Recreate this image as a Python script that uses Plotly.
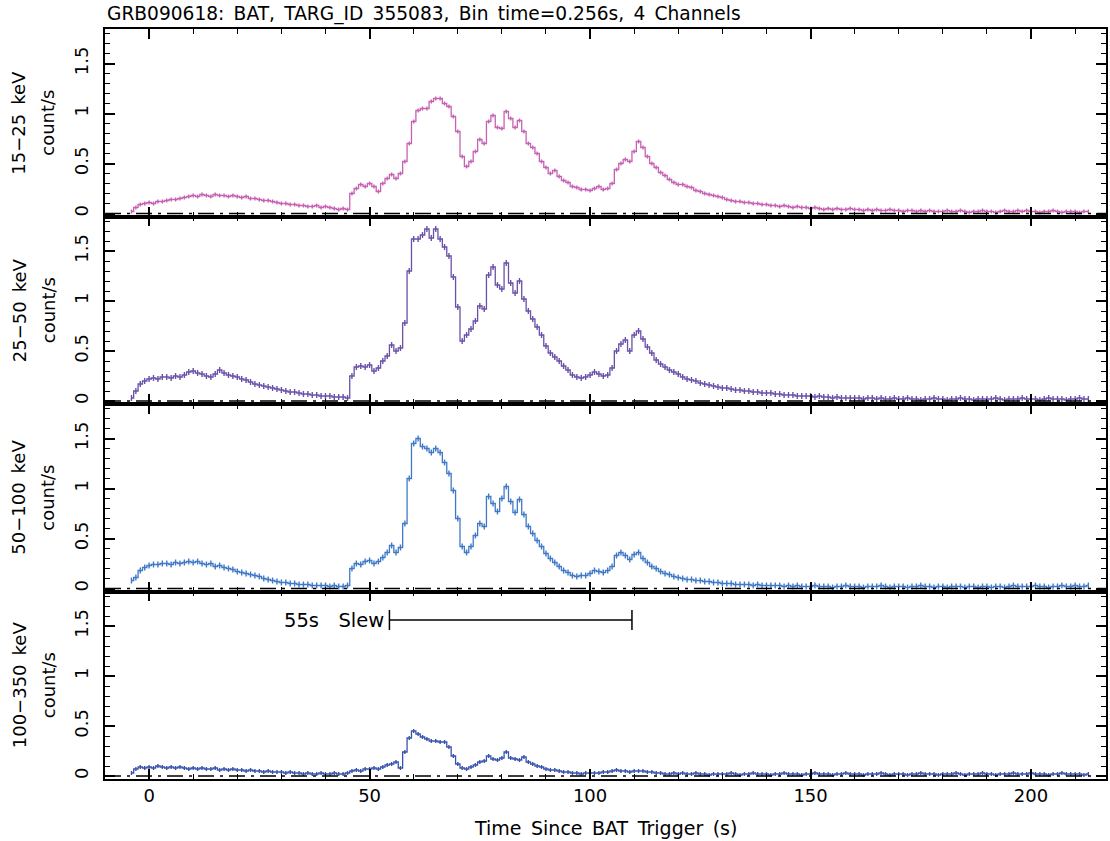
import numpy as np
import plotly.graph_objects as go
from plotly.subplots import make_subplots

# GRB090618 BAT light curves, rates in count/s, 1 s bins centred on t = -4 ... 213 s
time_s = np.arange(-4, 214)

rate_15_25 = [
    0.02, 0.06, 0.09, 0.10,
    0.11, 0.10, 0.12, 0.12, 0.13, 0.14, 0.14, 0.15, 0.16, 0.17,
    0.18, 0.17, 0.19, 0.18, 0.17, 0.19, 0.18, 0.18, 0.17, 0.18,
    0.17, 0.16, 0.17, 0.15, 0.15, 0.14, 0.13, 0.13, 0.12, 0.11,
    0.10, 0.10, 0.09, 0.09, 0.08, 0.08, 0.07, 0.07, 0.08, 0.06,
    0.07, 0.06, 0.05, 0.04, 0.05, 0.04, 0.20, 0.25, 0.29, 0.27,
    0.30, 0.27, 0.22, 0.30, 0.35, 0.39, 0.35, 0.40, 0.52, 0.70,
    0.92, 1.03, 1.05, 1.05, 1.12, 1.15, 1.15, 1.10, 1.07, 0.97,
    0.82, 0.57, 0.47, 0.52, 0.62, 0.74, 0.70, 0.92, 0.98, 0.86,
    0.85, 1.02, 0.95, 0.86, 0.93, 0.82, 0.70, 0.66, 0.60, 0.52,
    0.46, 0.40, 0.43, 0.37, 0.33, 0.31, 0.27, 0.26, 0.24, 0.24,
    0.23, 0.25, 0.27, 0.24, 0.25, 0.30, 0.44, 0.50, 0.54, 0.52,
    0.62, 0.72, 0.66, 0.57, 0.50, 0.46, 0.41, 0.38, 0.34, 0.31,
    0.29, 0.29, 0.27, 0.26, 0.23, 0.22, 0.20, 0.19, 0.18, 0.17,
    0.16, 0.14, 0.13, 0.12, 0.12, 0.11, 0.11, 0.10, 0.10, 0.09,
    0.09, 0.08, 0.08, 0.07, 0.08, 0.07, 0.06, 0.07, 0.06, 0.06,
    0.05, 0.06, 0.05, 0.04, 0.05, 0.04, 0.05, 0.04, 0.04, 0.05,
    0.04, 0.04, 0.03, 0.04, 0.03, 0.04, 0.03, 0.03, 0.04, 0.03,
    0.03, 0.02, 0.03, 0.03, 0.02, 0.03, 0.02, 0.03, 0.02, 0.02,
    0.02, 0.03, 0.02, 0.02, 0.03, 0.02, 0.01, 0.02, 0.02, 0.03,
    0.02, 0.02, 0.01, 0.02, 0.03, 0.02, 0.02, 0.03, 0.02, 0.03,
    0.02, 0.02, 0.01, 0.02, 0.02, 0.03, 0.02, 0.01, 0.02, 0.02,
    0.02, 0.01, 0.02, 0.02,
]

rate_25_50 = [
    0.03, 0.10, 0.17, 0.20,
    0.22, 0.23, 0.22, 0.24, 0.24, 0.23, 0.25, 0.24, 0.26, 0.29,
    0.30, 0.28, 0.27, 0.25, 0.24, 0.27, 0.31, 0.28, 0.26, 0.25,
    0.24, 0.22, 0.21, 0.19, 0.17, 0.16, 0.15, 0.14, 0.13, 0.12,
    0.11, 0.10, 0.09, 0.09, 0.08, 0.07, 0.07, 0.06, 0.06, 0.05,
    0.05, 0.05, 0.04, 0.04, 0.04, 0.03, 0.25, 0.34, 0.35, 0.34,
    0.36, 0.30, 0.33, 0.40, 0.45, 0.56, 0.50, 0.53, 0.78, 1.30,
    1.62, 1.62, 1.66, 1.72, 1.63, 1.72, 1.62, 1.54, 1.45, 1.24,
    0.94, 0.60, 0.66, 0.72, 0.80, 0.95, 0.92, 1.26, 1.34, 1.16,
    1.12, 1.38, 1.18, 1.08, 1.20, 1.02, 0.90, 0.82, 0.74, 0.66,
    0.55, 0.48, 0.44, 0.40, 0.35, 0.31, 0.26, 0.24, 0.23, 0.24,
    0.26, 0.29, 0.27, 0.25, 0.26, 0.33, 0.50, 0.57, 0.61, 0.50,
    0.66, 0.70, 0.62, 0.54, 0.48, 0.41, 0.37, 0.34, 0.31, 0.29,
    0.27, 0.24, 0.22, 0.21, 0.20, 0.18, 0.17, 0.16, 0.15, 0.14,
    0.13, 0.13, 0.12, 0.11, 0.11, 0.10, 0.10, 0.09, 0.09, 0.08,
    0.08, 0.08, 0.07, 0.07, 0.06, 0.06, 0.06, 0.05, 0.05, 0.05,
    0.05, 0.04, 0.05, 0.04, 0.04, 0.03, 0.04, 0.03, 0.03, 0.03,
    0.03, 0.03, 0.02, 0.03, 0.03, 0.02, 0.03, 0.02, 0.02, 0.03,
    0.02, 0.02, 0.03, 0.02, 0.02, 0.01, 0.02, 0.02, 0.03, 0.02,
    0.02, 0.01, 0.02, 0.02, 0.03, 0.02, 0.02, 0.01, 0.02, 0.02,
    0.02, 0.02, 0.03, 0.02, 0.01, 0.02, 0.02, 0.02, 0.03, 0.02,
    0.02, 0.02, 0.01, 0.02, 0.03, 0.02, 0.02, 0.02, 0.01, 0.02,
    0.02, 0.03, 0.02, 0.02,
]

rate_50_100 = [
    0.08, 0.11, 0.18, 0.21,
    0.23, 0.24, 0.24, 0.25, 0.25, 0.24, 0.26, 0.25, 0.26, 0.27,
    0.26, 0.27, 0.25, 0.24, 0.25, 0.22, 0.23, 0.21, 0.20, 0.19,
    0.17, 0.16, 0.15, 0.14, 0.13, 0.12, 0.10, 0.09, 0.08, 0.07,
    0.06, 0.06, 0.05, 0.05, 0.04, 0.04, 0.04, 0.03, 0.03, 0.03,
    0.03, 0.02, 0.03, 0.02, 0.02, 0.03, 0.20, 0.25, 0.24, 0.27,
    0.28, 0.25, 0.27, 0.31, 0.36, 0.43, 0.36, 0.41, 0.65, 1.10,
    1.45, 1.50, 1.42, 1.40, 1.36, 1.40, 1.36, 1.26, 1.15, 0.98,
    0.70, 0.42, 0.36, 0.42, 0.53, 0.65, 0.62, 0.92, 0.85, 0.77,
    0.90, 1.02, 0.87, 0.76, 0.89, 0.74, 0.62, 0.55, 0.48, 0.42,
    0.35, 0.30, 0.26, 0.22, 0.18, 0.16, 0.13, 0.12, 0.13, 0.13,
    0.15, 0.18, 0.17, 0.16, 0.18, 0.22, 0.33, 0.36, 0.33, 0.29,
    0.34, 0.36, 0.30, 0.26, 0.22, 0.20, 0.17, 0.15, 0.14, 0.12,
    0.11, 0.10, 0.09, 0.09, 0.08, 0.08, 0.07, 0.07, 0.06, 0.06,
    0.05, 0.05, 0.05, 0.04, 0.04, 0.04, 0.04, 0.03, 0.04, 0.03,
    0.03, 0.03, 0.03, 0.03, 0.02, 0.03, 0.02, 0.03, 0.02, 0.02,
    0.02, 0.03, 0.02, 0.02, 0.02, 0.01, 0.02, 0.02, 0.03, 0.02,
    0.02, 0.02, 0.01, 0.02, 0.02, 0.02, 0.03, 0.02, 0.01, 0.02,
    0.02, 0.02, 0.01, 0.02, 0.02, 0.03, 0.02, 0.02, 0.01, 0.02,
    0.02, 0.01, 0.02, 0.02, 0.02, 0.01, 0.02, 0.02, 0.01, 0.02,
    0.02, 0.01, 0.02, 0.02, 0.01, 0.02, 0.03, 0.02, 0.02, 0.02,
    0.02, 0.03, 0.02, 0.02, 0.01, 0.02, 0.02, 0.03, 0.02, 0.02,
    0.03, 0.02, 0.02, 0.03,
]

rate_100_350 = [
    0.03, 0.07, 0.09, 0.08,
    0.09, 0.08, 0.10, 0.09, 0.08, 0.09, 0.08, 0.09, 0.08, 0.07,
    0.08, 0.07, 0.08, 0.07, 0.07, 0.08, 0.06, 0.07, 0.06, 0.07,
    0.06, 0.06, 0.05, 0.06, 0.05, 0.05, 0.04, 0.05, 0.04, 0.04,
    0.04, 0.03, 0.04, 0.03, 0.03, 0.02, 0.03, 0.02, 0.02, 0.03,
    0.02, 0.02, 0.03, 0.02, 0.02, 0.03, 0.05, 0.06, 0.05, 0.07,
    0.07, 0.08, 0.07, 0.09, 0.11, 0.12, 0.14, 0.08, 0.24, 0.38,
    0.45, 0.42, 0.39, 0.37, 0.35, 0.35, 0.34, 0.34, 0.29, 0.20,
    0.12, 0.08, 0.07, 0.09, 0.11, 0.14, 0.15, 0.20, 0.17, 0.16,
    0.18, 0.24, 0.18, 0.17, 0.16, 0.19, 0.14, 0.12, 0.10, 0.09,
    0.07, 0.06, 0.06, 0.05, 0.04, 0.04, 0.03, 0.03, 0.02, 0.03,
    0.03, 0.03, 0.03, 0.04, 0.04, 0.05, 0.06, 0.05, 0.05, 0.04,
    0.05, 0.05, 0.05, 0.04, 0.04, 0.03, 0.03, 0.02, 0.02, 0.03,
    0.02, 0.03, 0.02, 0.02, 0.03, 0.02, 0.02, 0.01, 0.02, 0.02,
    0.02, 0.02, 0.03, 0.02, 0.01, 0.02, 0.02, 0.03, 0.02, 0.02,
    0.02, 0.01, 0.02, 0.02, 0.03, 0.02, 0.02, 0.02, 0.01, 0.02,
    0.02, 0.03, 0.02, 0.02, 0.02, 0.01, 0.02, 0.02, 0.03, 0.02,
    0.02, 0.02, 0.01, 0.02, 0.02, 0.02, 0.03, 0.02, 0.01, 0.02,
    0.02, 0.02, 0.01, 0.02, 0.02, 0.03, 0.02, 0.02, 0.02, 0.01,
    0.02, 0.02, 0.02, 0.03, 0.02, 0.01, 0.02, 0.02, 0.02, 0.03,
    0.02, 0.02, 0.01, 0.02, 0.02, 0.02, 0.03, 0.02, 0.02, 0.02,
    0.03, 0.02, 0.02, 0.02, 0.01, 0.02, 0.02, 0.03, 0.02, 0.02,
    0.02, 0.02, 0.01, 0.02,
]

band_labels = ["15\u221225 keV", "25\u221250 keV", "50\u2212100 keV", "100\u2212350 keV"]
band_rates = [rate_15_25, rate_25_50, rate_50_100, rate_100_350]
band_errors = [0.02, 0.03, 0.03, 0.02]   # typical 1-sigma rate error per band

slew_start = 54.5
slew_length = 55.0
slew_label = "55s Slew"

title_text = "GRB090618: BAT, TARG_ID 355083, Bin time=0.256s, 4 Channels"
x_title = "Time Since BAT Trigger (s)"

colors = ["#c661b4", "#6a50a8", "#3f79c6", "#3853ad"]
FONT = "DejaVu Sans"
X_RANGE = [-10, 217.0]
Y_RANGE = [-0.03, 1.845]


def wide(s):
    """PGPLOT-style wide word spacing."""
    return s.replace(" ", "\u2002")


fig = make_subplots(rows=4, cols=1, shared_xaxes=True, vertical_spacing=0)

for i, (rates, color, err) in enumerate(zip(band_rates, colors, band_errors)):
    row = i + 1
    fig.add_trace(
        go.Scatter(
            x=time_s, y=rates, mode="lines",
            line=dict(color=color, width=1.3, shape="hvh"),
            error_y=dict(type="constant", value=err, width=0,
                         thickness=1.4, color=color),
            showlegend=False, hoverinfo="skip",
        ),
        row=row, col=1,
    )
    # dash-dot zero level
    xa = "x" if row == 1 else f"x{row}"
    ya = "y" if row == 1 else f"y{row}"
    fig.add_shape(type="line", xref=xa, yref=ya, x0=X_RANGE[0], x1=X_RANGE[1],
                  y0=0, y1=0, line=dict(color="black", width=1.5,
                                        dash="16px,6px,3px,6px"))
    # two-line rotated axis label
    ydom = f"{ya} domain"
    fig.add_annotation(text=wide(band_labels[i]), xref="paper", x=0,
                       xanchor="center", xshift=-86, yref=ydom, y=0.5,
                       yanchor="middle", textangle=-90, showarrow=False,
                       font=dict(family=FONT, size=18, color="black"))
    fig.add_annotation(text="count/s", xref="paper", x=0, xanchor="center",
                       xshift=-57, yref=ydom, y=0.5, yanchor="middle",
                       textangle=-90, showarrow=False,
                       font=dict(family=FONT, size=18, color="black"))

# slew interval marker on the bottom panel
slew_y = 1.56
fig.add_shape(type="line", xref="x4", yref="y4", x0=slew_start,
              x1=slew_start + slew_length, y0=slew_y, y1=slew_y,
              line=dict(color="black", width=1.5))
for xe in (slew_start, slew_start + slew_length):
    fig.add_shape(type="line", xref="x4", yref="y4", x0=xe, x1=xe,
                  y0=slew_y - 0.1, y1=slew_y + 0.1,
                  line=dict(color="black", width=1.5))
fig.add_annotation(text=slew_label.replace(" ", "\u2003"), xref="x4", yref="y4",
                   x=slew_start - 0.8, y=slew_y, xanchor="right",
                   yanchor="middle", showarrow=False,
                   font=dict(family=FONT, size=19.5, color="black"))

fig.add_annotation(text=wide(title_text), xref="paper", yref="paper", x=0, y=1,
                   xanchor="left", yanchor="bottom", yshift=2, showarrow=False,
                   font=dict(family=FONT, size=18.6, color="black"))
fig.add_annotation(text=wide(x_title), xref="paper", yref="paper", x=0.5, y=0,
                   xanchor="center", yanchor="top", yshift=-36, showarrow=False,
                   font=dict(family=FONT, size=19, color="black"))

fig.update_xaxes(
    range=X_RANGE, tick0=0, dtick=50, ticks="inside", ticklen=10, tickwidth=1.5,
    tickcolor="black", minor=dict(ticks="inside", ticklen=5, dtick=10,
                                  tickwidth=1.2, tickcolor="black"),
    showline=True, linewidth=1.6, linecolor="black", mirror="allticks",
    showgrid=False, zeroline=False,
    tickfont=dict(family=FONT, size=18, color="black"),
)
fig.update_yaxes(
    range=Y_RANGE, tick0=0, dtick=0.5, ticks="inside", ticklen=10, tickwidth=1.5,
    tickcolor="black", minor=dict(ticks="inside", ticklen=5, dtick=0.1,
                                  tickwidth=1.2, tickcolor="black"),
    showline=True, linewidth=1.6, linecolor="black", mirror="allticks",
    showgrid=False, zeroline=False, tickangle=-90, ticklabelstandoff=8,
    tickfont=dict(family=FONT, size=18, color="black"),
)

fig.update_layout(
    width=1110, height=841,
    margin=dict(l=105, r=2, t=29, b=62),
    paper_bgcolor="white", plot_bgcolor="white",
    font=dict(family=FONT, color="black"),
)

fig.write_html("out.html")
